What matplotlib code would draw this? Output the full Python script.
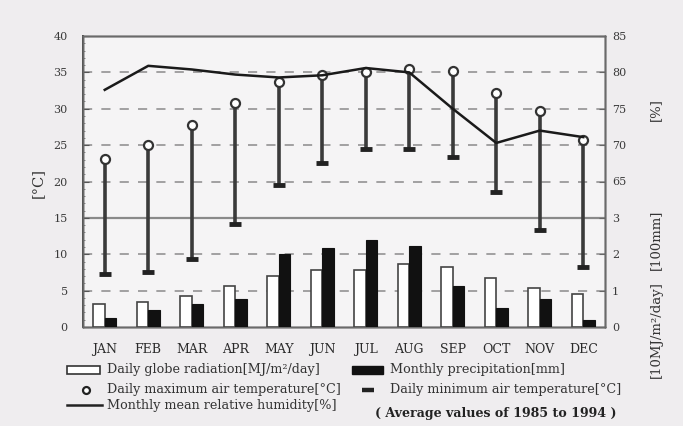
import matplotlib
matplotlib.use("Agg")
import matplotlib.pyplot as plt
from matplotlib.patches import Rectangle
from matplotlib.lines import Line2D
import numpy as np

months = ["JAN", "FEB", "MAR", "APR", "MAY", "JUN", "JUL", "AUG", "SEP", "OCT", "NOV", "DEC"]
# Daily globe radiation [MJ/m2/day]
radiation = [6.2, 6.8, 8.4, 11.4, 14.0, 15.6, 15.6, 17.4, 16.6, 13.4, 10.6, 9.2]
# Monthly precipitation [mm]
precipitation = [26, 48, 64, 78, 200, 216, 240, 224, 114, 52, 76, 20]
# Daily maximum / minimum air temperature [C]
t_max = [23.1, 25.0, 27.7, 30.8, 33.7, 34.6, 35.1, 35.5, 35.2, 32.2, 29.7, 25.7]
t_min = [7.3, 7.5, 9.4, 14.1, 19.5, 22.5, 24.5, 24.4, 23.3, 18.5, 13.3, 8.2]
# Monthly mean relative humidity [%]
humidity = [77.6, 80.9, 80.4, 79.7, 79.3, 79.6, 80.6, 80.0, 75.0, 70.3, 72.0, 71.1]

temp_ticks = [0, 5, 10, 15, 20, 25, 30, 35, 40]
hum_ticks = [65, 70, 75, 80, 85]
low_ticks = [0, 1, 2, 3]

serif = ["DejaVu Serif", "Liberation Serif"]
plt.rcParams["font.family"] = serif

W, H = 683, 426
fig = plt.figure(figsize=(W / 100, H / 100), dpi=100, facecolor="#efedef")
ax = fig.add_axes([83 / W, 1 - 327 / H, (605 - 83) / W, (327 - 36) / H])
ax.set_facecolor("#f5f4f5")
ax_h = ax.twinx()
ax_b = ax.twinx()

x = np.arange(len(months))
ax.set_xlim(-0.5, 11.5)
ax.set_ylim(0, 40)
ax_h.set_ylim(45, 85)
ax_b.set_ylim(0, 8)

# grid
for t in temp_ticks[1:-1]:
    if t == 15:
        ax.axhline(t, color="#8a8a8a", lw=1.6, zorder=1)
    else:
        ax.axhline(t, color="#8a8a8a", lw=1.1, ls=(0, (6, 6)), zorder=1)

# bars (units: 10 MJ/m2/day and 100 mm)
bw = 0.27
rad_units = np.array(radiation) / 10.0
pre_units = np.array(precipitation) / 100.0
ax_b.bar(x - bw / 2, rad_units, width=bw, color="white", edgecolor="#444444", lw=1.2, zorder=3)
ax_b.bar(x + bw / 2, pre_units, width=bw, color="#111111", edgecolor="#111111", lw=0.8, zorder=3)

# temperature stems
ax.vlines(x, t_min, t_max, color="#3a3a3a", lw=2.6, zorder=3)
ax.plot(x, t_min, ls="none", marker="_", ms=9, mew=3.5, color="#222222", zorder=4)

# humidity line
ax_h.plot(x, humidity, color="#1a1a1a", lw=1.8, zorder=4)
ax_h.set_zorder(ax.get_zorder() + 1)
ax_b.set_zorder(ax.get_zorder() + 1)
# max temp circles on top
ax_top = ax.twinx()
ax_top.set_ylim(0, 40)
ax_top.set_yticks([])
ax_top.plot(x, t_max, ls="none", marker="o", ms=6.5, mfc="white", mec="#333333", mew=1.6, zorder=5)

# axes styling
for a in (ax, ax_h, ax_b, ax_top):
    for s in a.spines.values():
        s.set_color("#6a6a6a")
        s.set_linewidth(1.0)
ax.spines["left"].set_color("#444444")
ax.spines["left"].set_linewidth(1.4)

ax.set_yticks(temp_ticks)
ax.set_yticklabels([str(t) for t in temp_ticks])
ax.tick_params(axis="y", direction="in", length=4, pad=11, labelsize=8, labelcolor="#3a3a3a", color="#555555")
ax.set_yticks(np.arange(0, 41, 1), minor=True)
ax.tick_params(axis="y", which="minor", direction="in", length=1.5, color="#777777")
ax.set_xticks(x)
ax.set_xticklabels(months)
ax.tick_params(axis="x", direction="in", length=0, pad=11.5, labelsize=9, labelcolor="#2a2a2a")

ax_h.set_yticks(hum_ticks)
ax_h.set_yticklabels([str(t) for t in hum_ticks])
ax_h.tick_params(axis="y", direction="in", length=4, pad=5, labelsize=8, labelcolor="#3a3a3a", color="#666666")
ax_b.set_yticks(low_ticks)
ax_b.set_yticklabels([str(t) for t in low_ticks])
ax_b.tick_params(axis="y", direction="in", length=4, pad=5, labelsize=8, labelcolor="#3a3a3a", color="#666666")

# axis labels
fig.text(38 / W, 1 - 183 / H, "[°C]", rotation=90, ha="center", va="center", fontsize=10.5, color="#333333")
fig.text(656 / W, 1 - 110 / H, "[%]", rotation=90, ha="center", va="center", fontsize=9.5, color="#333333")
fig.text(656 / W, 1 - 240 / H, "[100mm]", rotation=90, ha="center", va="center", fontsize=9.5, color="#333333")
fig.text(656 / W, 1 - 330 / H, "[10MJ/m²/day]", rotation=90, ha="center", va="center", fontsize=9.5, color="#333333")

# legend (manual)
def fx(px):
    return px / W

def fy(py):
    return 1 - py / H

fs = 9.2
tc = "#333333"
r1, r2, r3 = 370, 390, 406
fig.add_artist(Rectangle((fx(67), fy(r1 + 4)), (100 - 67) / W, 8 / H, facecolor="white", edgecolor="#333333", lw=1.2, transform=fig.transFigure))
fig.text(fx(107), fy(r1), "Daily globe radiation[MJ/m²/day]", ha="left", va="center", fontsize=fs, color=tc)
fig.add_artist(Rectangle((fx(352), fy(r1 + 4)), (383 - 352) / W, 8 / H, facecolor="#111111", edgecolor="#111111", lw=1.0, transform=fig.transFigure))
fig.text(fx(390), fy(r1), "Monthly precipitation[mm]", ha="left", va="center", fontsize=fs, color=tc)

fig.add_artist(Line2D([fx(86)], [fy(r2)], marker="o", ms=5, mfc="white", mec="#222222", mew=1.6, transform=fig.transFigure))
fig.text(fx(107), fy(r2), "Daily maximum air temperature[°C]", ha="left", va="center", fontsize=fs, color=tc)
fig.add_artist(Line2D([fx(368)], [fy(r2)], marker="_", ms=8, mew=3.2, color="#222222", transform=fig.transFigure))
fig.text(fx(390), fy(r2), "Daily minimum air temperature[°C]", ha="left", va="center", fontsize=fs, color=tc)

fig.add_artist(Line2D([fx(67), fx(102)], [fy(r3 - 1), fy(r3 - 1)], color="#222222", lw=1.8, transform=fig.transFigure))
fig.text(fx(107), fy(r3), "Monthly mean relative humidity[%]", ha="left", va="center", fontsize=fs, color=tc)
fig.text(fx(375), fy(413), "( Average values of 1985 to 1994 )", ha="left", va="center", fontsize=9.1, fontweight="bold", color="#222222")

fig.savefig("out.png", dpi=100, facecolor=fig.get_facecolor())
